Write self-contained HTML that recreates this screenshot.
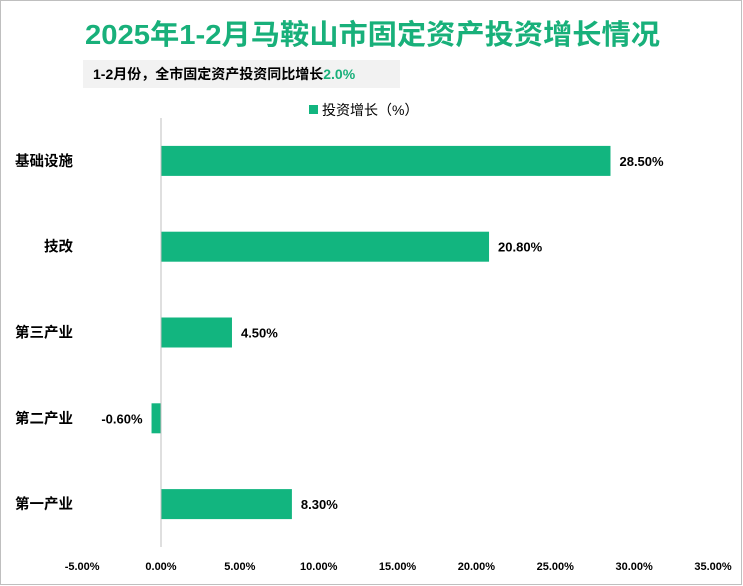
<!DOCTYPE html>
<html><head><meta charset="utf-8"><style>
html,body{margin:0;padding:0;background:#fff}
svg{display:block}
text{font-family:"Liberation Sans","Noto Sans CJK SC",sans-serif}
</style></head><body>
<svg id="chart" width="743" height="586" viewBox="0 0 743 586" xmlns="http://www.w3.org/2000/svg">
<rect x="0.5" y="0.5" width="741" height="584" fill="#fff" stroke="#bfbfbf"/>
<text x="85" y="44" font-size="28" font-weight="bold" fill="#18b07a" textLength="575" lengthAdjust="spacingAndGlyphs">2025年1-2月马鞍山市固定资产投资增长情况</text>
<rect x="83" y="60" width="317" height="28" fill="#f2f2f2"/>
<text x="93" y="79" font-size="14" font-weight="bold" fill="#000">1-2月份，全市固定资产投资同比增长<tspan fill="#18b07a">2.0%</tspan></text>
<rect x="309" y="105" width="9" height="9" fill="#12b57f"/>
<text x="322" y="115" font-size="14" fill="#000">投资增长（%）</text>
<g id="plot"></g>
</svg>
<script>
const categories=["基础设施","技改","第三产业","第二产业","第一产业"];
const values=[28.5,20.8,4.5,-0.6,8.3];
const valueLabels=["28.50%","20.80%","4.50%","-0.60%","8.30%"];
const ticks=[-5,0,5,10,15,20,25,30,35];
const tickLabels=["-5.00%","0.00%","5.00%","10.00%","15.00%","20.00%","25.00%","30.00%","35.00%"];
const NS="http://www.w3.org/2000/svg";
const plotG=document.getElementById('plot');
const xs=v=>161+(v)*(552/35);
const plotTop=118,plotBottom=547,band=(plotBottom-plotTop)/categories.length;
const ys=i=>plotTop+band*(i+0.5);
function mk(t,a,txt){const e=document.createElementNS(NS,t);for(const k in a)e.setAttribute(k,a[k]);if(txt!=null)e.textContent=txt;plotG.appendChild(e);return e;}
categories.forEach((c,i)=>{
  const v=values[i];
  const r=mk('rect',{x:Math.min(xs(0),xs(v)),y:ys(i)-15,width:Math.abs(xs(v)-xs(0)),height:30,fill:'#12b57f'});
  
  
  const l=mk('text',{x:v>=0?xs(v)+9:xs(v)-9,y:ys(i)+5,'font-size':13,'font-weight':'bold','text-anchor':v>=0?'start':'end',fill:'#000'},valueLabels[i]);
  
  
  const cl=mk('text',{x:73,y:ys(i)+5,'font-size':14.5,'font-weight':'bold','text-anchor':'end',fill:'#000'},c);
  
  
});
const ax=mk('line',{x1:xs(0),x2:xs(0),y1:plotTop,y2:plotBottom,stroke:'#bfbfbf','stroke-width':1});


ticks.forEach((t,i)=>{
  const e=mk('text',{x:xs(t),y:570,'font-size':11,'font-weight':'bold','text-anchor':'middle',fill:'#000'},tickLabels[i]);
  
  
});
</script>
</body></html>
